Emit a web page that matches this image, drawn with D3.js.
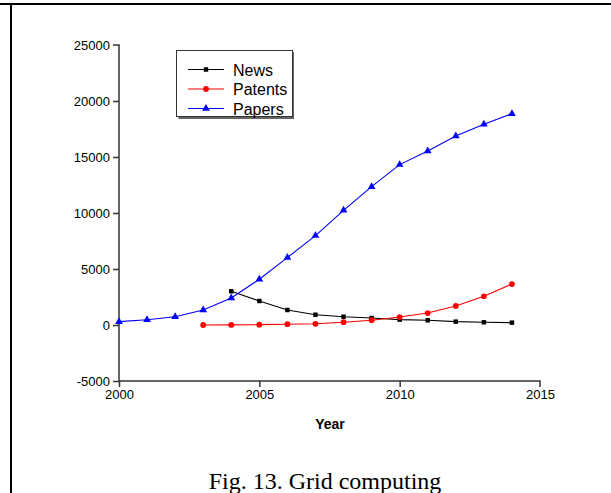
<!DOCTYPE html>
<html>
<head>
<meta charset="utf-8">
<script src="https://cdn.jsdelivr.net/npm/d3@7"></script>
<style>
  html, body { margin: 0; padding: 0; background: #fff; }
  svg { display: block; }
</style>
</head>
<body>
<svg id="chart" width="611" height="493"></svg>
<script>
// Publication counts on grid computing, per year
const newsYears = [2004, 2005, 2006, 2007, 2008, 2009, 2010, 2011, 2012, 2013, 2014];
const newsValues = [3010, 2140, 1340, 920, 740, 625, 480, 420, 300, 240, 210];

const patentYears = [2003, 2004, 2005, 2006, 2007, 2008, 2009, 2010, 2011, 2012, 2013, 2014];
const patentValues = [0, 10, 30, 70, 110, 250, 430, 710, 1070, 1700, 2560, 3660];

const paperYears = [2000, 2001, 2002, 2003, 2004, 2005, 2006, 2007, 2008, 2009, 2010, 2011, 2012, 2013, 2014];
const paperValues = [300, 470, 740, 1340, 2420, 4080, 6020, 7980, 10240, 12350, 14320, 15540, 16880, 17920, 18870];

const xTicks = [2000, 2005, 2010, 2015];
const yTicks = [-5000, 0, 5000, 10000, 15000, 20000, 25000];

const seriesNames = ["News", "Patents", "Papers"];
const seriesColors = ["#000000", "#ff0000", "#0000ff"];
const seriesShapes = [d3.symbolSquare, d3.symbolCircle, d3.symbolTriangle];
const seriesSizes = [20, 26, 26];

const svg = d3.select("#chart");

// page frame: rule across the top and down the left side
svg.append("line").attr("x1", 0).attr("x2", 611).attr("y1", 4).attr("y2", 4)
  .attr("stroke", "#000").attr("stroke-width", 2);
svg.append("line").attr("x1", 11).attr("x2", 11).attr("y1", 3).attr("y2", 493)
  .attr("stroke", "#000").attr("stroke-width", 2);

const x = d3.scaleLinear().domain([2000, 2015]).range([119, 540]);
const y = d3.scaleLinear().domain([-5000, 25000]).range([381, 45]);

const axisColor = "#333";
const sansFont = "'Liberation Sans', Arial, sans-serif";
const plainNumber = d => String(d); // keeps an ASCII hyphen on negatives

// y axis
const yAxis = svg.append("g").attr("transform", `translate(${x(2000)},0)`)
  .call(d3.axisLeft(y).tickValues(yTicks).tickSize(6).tickPadding(3).tickFormat(plainNumber));
// x axis
const xAxis = svg.append("g").attr("transform", `translate(0,${y(-5000)})`)
  .call(d3.axisBottom(x).tickValues(xTicks).tickSize(6).tickPadding(3).tickFormat(plainNumber));

[yAxis, xAxis].forEach(g => {
  g.select(".domain").attr("stroke", axisColor).attr("stroke-width", 1.5);
  g.selectAll(".tick line").attr("stroke", axisColor).attr("stroke-width", 1.5);
  g.selectAll(".tick text").attr("fill", "#000").attr("font-family", sansFont).attr("font-size", 13);
});
// square off the domain ends so no outer tick stubs show
yAxis.select(".domain").attr("d", `M0,${y(-5000)}V${y(25000)}H-6`);
xAxis.select(".domain").attr("d", `M${x(2000)},0H${x(2015)}V6`);
xAxis.selectAll(".tick").filter(d => d === 2015).select("line").remove();
yAxis.selectAll(".tick").filter(d => d === 25000).select("line").remove();

// axis title
svg.append("text").attr("x", 330).attr("y", 429)
  .attr("text-anchor", "middle").attr("font-family", sansFont)
  .attr("font-weight", "bold").attr("font-size", 14).text("Year");

// caption
svg.append("text").attr("x", 325).attr("y", 489)
  .attr("text-anchor", "middle").attr("font-family", "'Liberation Serif', 'Times New Roman', serif")
  .attr("font-size", 24).text("Fig. 13. Grid computing");

const series = [
  { years: newsYears, values: newsValues },
  { years: patentYears, values: patentValues },
  { years: paperYears, values: paperValues }
];

const line = d3.line().x(d => x(d[0])).y(d => y(d[1]));

series.forEach((s, i) => {
  const pts = s.years.map((yr, j) => [yr, s.values[j]]);
  const g = svg.append("g");
  g.append("path").datum(pts).attr("d", line)
    .attr("fill", "none").attr("stroke", seriesColors[i]).attr("stroke-width", 1.1);
  g.selectAll("path.mark").data(pts).join("path").attr("class", "mark")
    .attr("transform", d => `translate(${x(d[0])},${y(d[1])})`)
    .attr("d", d3.symbol().type(seriesShapes[i]).size(seriesSizes[i]))
    .attr("fill", seriesColors[i]);
});

// legend
const lg = svg.append("g");
lg.append("rect").attr("x", 178.5).attr("y", 52).attr("width", 115.5).attr("height", 67).attr("fill", "#666");
lg.append("rect").attr("x", 176.5).attr("y", 50.5).attr("width", 116).attr("height", 66)
  .attr("fill", "#fff").attr("stroke", "#333").attr("stroke-width", 1);
seriesNames.forEach((name, i) => {
  const ly = 69.5 + i * 19.5;
  lg.append("line").attr("x1", 188).attr("x2", 224).attr("y1", ly).attr("y2", ly)
    .attr("stroke", seriesColors[i]).attr("stroke-width", 1.1);
  lg.append("path").attr("transform", `translate(206,${ly})`)
    .attr("d", d3.symbol().type(seriesShapes[i]).size(seriesSizes[i]))
    .attr("fill", seriesColors[i]);
  lg.append("text").attr("x", 233).attr("y", ly + 6)
    .attr("font-family", sansFont).attr("font-size", 16).text(name);
});
</script>
</body>
</html>
